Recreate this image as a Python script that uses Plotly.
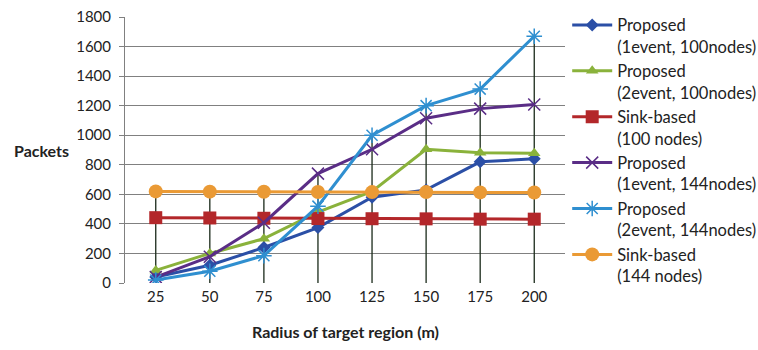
import plotly.graph_objects as go

radius = ["25", "50", "75", "100", "125", "150", "175", "200"]
p1e100 = [40, 120, 240, 375, 580, 630, 820, 840]
p2e100 = [85, 200, 300, 480, 620, 905, 882, 878]
sink100 = [442, 440, 438, 436, 435, 434, 432, 432]
p1e144 = [40, 178, 408, 740, 905, 1115, 1180, 1208]
p2e144 = [20, 80, 185, 520, 1000, 1200, 1312, 1670]
sink144 = [620, 618, 617, 616, 615, 615, 613, 612]

names = [
    "Proposed<br>(1event, 100nodes)",
    "Proposed<br>(2event, 100nodes)",
    "Sink-based<br>(100 nodes)",
    "Proposed<br>(1event, 144nodes)",
    "Proposed<br>(2event, 144nodes)",
    "Sink-based<br>(144 nodes)",
]
series = [p1e100, p2e100, sink100, p1e144, p2e144, sink144]
colors = ["#2b4fa6", "#8ab23b", "#b3272a", "#5a2d86", "#2f8fd0", "#ea9a35"]
symbols = ["diamond", "triangle-up", "square", "x-thin", "asterisk", "circle"]
msizes = [10, 11, 13, 12, 13, 14]

fig = go.Figure()

# drop lines from the highest point of each category down to zero
dx, dy = [], []
for i, r in enumerate(radius):
    top = max(s[i] for s in series)
    dx += [r, r, None]
    dy += [0, top, None]
fig.add_trace(go.Scatter(x=dx, y=dy, mode="lines", line=dict(color="#1a2a1a", width=1.3),
                         showlegend=False, hoverinfo="skip"))

for nm, s, c, sym, ms in zip(names, series, colors, symbols, msizes):
    marker = dict(symbol=sym, size=ms, color=c)
    if sym in ("x-thin", "asterisk"):
        marker["line"] = dict(color=c, width=1.5)
    fig.add_trace(go.Scatter(x=radius, y=s, name=nm, mode="lines+markers",
                             line=dict(color=c, width=3), marker=marker))

fig.update_layout(
    width=758, height=350,
    margin=dict(l=125, r=193, t=17, b=67, autoexpand=False),
    paper_bgcolor="white", plot_bgcolor="white",
    font=dict(family="Lato, Open Sans, sans-serif", size=15, color="#222"),
    legend=dict(x=1.005, xanchor="left", y=1.035, yanchor="top",
                maxheight=330, valign="top",
                font=dict(size=16.5, color="#222"), itemwidth=40,
                bgcolor="rgba(0,0,0,0)"),
    xaxis=dict(type="category", showgrid=False, showline=False, ticks="",
               tickfont=dict(size=15), zeroline=False, ticklabelstandoff=3),
    yaxis=dict(range=[0, 1800], dtick=200, showgrid=True, gridcolor="#808080", gridwidth=1,
               showline=True, linecolor="#808080", linewidth=1, ticks="outside",
               ticklen=5, tickcolor="#808080", tickfont=dict(size=15), zeroline=False,
               ticklabelstandoff=5),
    annotations=[
        dict(text="<b>Packets</b>", x=-0.19, y=0.5, xref="paper", yref="paper",
             xanchor="center", yanchor="middle", showarrow=False, font=dict(size=16)),
        dict(text="<b>Radius of target region (m)</b>", x=0.5, y=-0.14, xref="paper",
             yref="paper", xanchor="center", yanchor="top", showarrow=False,
             font=dict(size=16)),
    ],
)

fig.write_html("out.html")
